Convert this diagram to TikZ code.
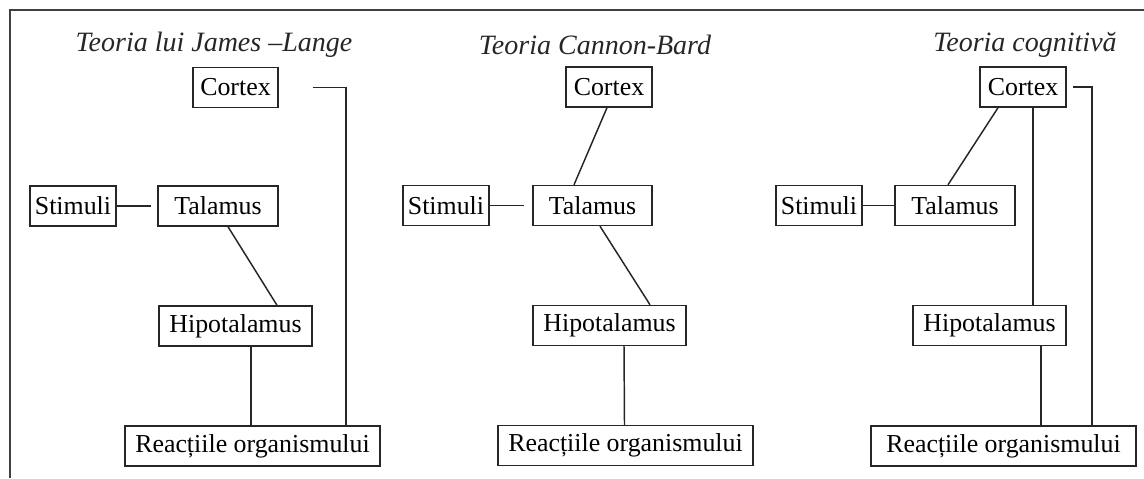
\documentclass[tikz,border=0pt]{standalone}
\usepackage{fontspec}
\setmainfont{Liberation Serif}
\usetikzlibrary{calc}

\tikzset{
  box/.style={draw=black!85, line width=1.1pt, minimum height=30pt, inner sep=2pt,
    font=\fontsize{19.4}{22}\selectfont},
  bw/.style={minimum width=#1*0.75pt},
  title/.style={font=\fontsize{21}{24}\selectfont\itshape, text=black!85},
  link/.style={draw=black!85, line width=1.1pt}
}

\begin{document}
\begin{tikzpicture}[x=0.75pt,y=-0.75pt]
        \useasboundingbox (0,0) rectangle (1144,478);
        \draw[line width=1.4pt, black!75] (10,478) -- (10,10) -- (1144,10);

        % James-Lange
        \node[title] (t1) at (214,45) {Teoria lui James --Lange};
        \node[box, bw=85] (c1) at (235.5,87.5) {Cortex};
        \node[box, bw=86] (s1) at (73,206) {Stimuli};
        \node[box, bw=120] (ta1) at (218,206) {Talamus};
        \node[box, bw=153] (h1) at (235.5,326) {Hipotalamus};
        \node[box, bw=255] (r1) at (252.5,446) {Reacțiile organismului};
        \coordinate (g1) at ($(s1.east)+(34,0)$);
        \draw[link] (s1.east) -- (g1);
        \draw[link] ($(ta1.south)+(10,0)$) -- ($(h1.north)+(41.5,0)$);
        \draw[link] ($(h1.south)+(15.5,0)$) -- ($(r1.north)+(-1.5,0)$);
        \draw[link] ($(c1.east)+(34,0)$) -| ($(r1.north)+(93.5,0)$);

        % Cannon-Bard
        \node[title] (t2) at (595,45) {Teoria Cannon-Bard};
        \node[box, bw=86] (c2) at (609,87) {Cortex};
        \node[box, bw=86] (s2) at (446,205.5) {Stimuli};
        \node[box, bw=119] (ta2) at (592.5,205.5) {Talamus};
        \node[box, bw=153] (h2) at (609.5,325.5) {Hipotalamus};
        \node[box, bw=255] (r2) at (625.5,445.5) {Reacțiile organismului};
        \coordinate (g2) at ($(s2.east)+(34,0)$);
        \draw[link] (s2.east) -- (g2);
        \draw[link] ($(c2.south)+(-2,0)$) -- ($(ta2.north)+(-18.5,0)$);
        \draw[link] ($(ta2.south)+(7.5,0)$) -- ($(h2.north)+(40.5,0)$);
        \draw[link] ($(h2.south)+(14.5,0)$) -- ($(r2.north)+(-1,0)$);

        % cognitiva
        \node[title] (t3) at (1025,45) {Teoria cognitivă};
        \node[box, bw=86] (c3) at (1023,87) {Cortex};
        \node[box, bw=86] (s3) at (819,205.5) {Stimuli};
        \node[box, bw=120] (ta3) at (955,205.5) {Talamus};
        \node[box, bw=153] (h3) at (989.5,325.5) {Hipotalamus};
        \node[box, bw=265] (r3) at (1003.5,446) {Reacțiile organismului};
        \draw[link] (s3.east) -- (ta3.west);
        \draw[link] ($(c3.south)+(-25,0)$) -- ($(ta3.north)+(-7,0)$);
        \draw[link] ($(c3.south)+(10,0)$) -- ($(h3.north)+(43.5,0)$);
        \draw[link] ($(h3.south)+(51.5,0)$) -- ($(r3.north)+(37.5,0)$);
        \draw[link] ($(c3.east)+(6,0)$) -| ($(r3.north)+(88.5,0)$);
    \end{tikzpicture}
\end{document}
